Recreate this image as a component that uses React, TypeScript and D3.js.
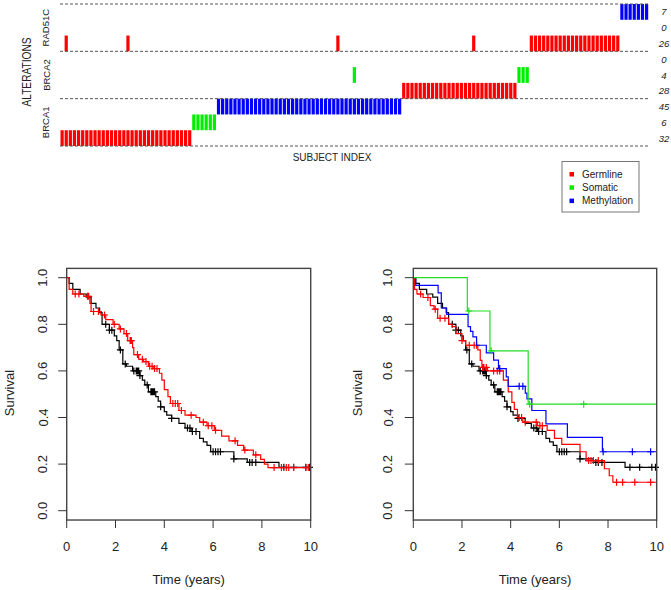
import React from "react";
import * as d3 from "d3";

// ---- top panel: alterations per subject ----
const subjectCount = 143;
const geneLabels = ["RAD51C", "BRCA2", "BRCA1"];
const rowTypes = ["Methylation", "Somatic", "Germline"];
const typeColors: Record<string, string> = {
  Germline: "#ff0000",
  Somatic: "#00ee00",
  Methylation: "#0000ff",
};

// subject indices, rows from top to bottom
const rad51cMethylation = d3.range(136, 143);
const rad51cSomatic: number[] = [];
const rad51cGermline = [1, 16, 67, 100, ...d3.range(114, 136)];
const brca2Methylation: number[] = [];
const brca2Somatic = [71, 111, 112, 113];
const brca2Germline = d3.range(83, 111);
const brca1Methylation = d3.range(38, 83);
const brca1Somatic = d3.range(32, 38);
const brca1Germline = d3.range(0, 32);

const rowSubjects = [
  rad51cMethylation, rad51cSomatic, rad51cGermline,
  brca2Methylation, brca2Somatic, brca2Germline,
  brca1Methylation, brca1Somatic, brca1Germline,
];

const legendItems = ["Germline", "Somatic", "Methylation"];

// ---- survival curves (time in years -> survival after the drop) ----
const blackTimes = [0.1, 0.25, 0.55, 0.8, 1.0, 1.2, 1.35, 1.45, 1.75, 1.95, 2.05, 2.15, 2.3, 2.45, 2.7, 3.0, 3.1, 3.2, 3.35, 3.65, 3.75, 3.85, 4.0, 4.1, 4.3, 4.6, 4.85, 5.1, 5.45, 5.6, 5.75, 5.9, 6.85, 7.4, 8.7];
const blackSurv = [0.976, 0.95, 0.93, 0.917, 0.89, 0.87, 0.85, 0.8, 0.775, 0.75, 0.73, 0.69, 0.63, 0.62, 0.6, 0.58, 0.56, 0.54, 0.51, 0.49, 0.47, 0.446, 0.425, 0.41, 0.396, 0.375, 0.355, 0.34, 0.31, 0.295, 0.28, 0.253, 0.222, 0.207, 0.186];
const blackCensor = [1.6, 1.75, 1.85, 2.2, 2.4, 2.75, 2.85, 2.9, 2.95, 3.0, 3.3, 3.45, 3.5, 3.55, 3.6, 3.85, 4.3, 4.95, 5.05, 5.15, 5.3, 6.0, 6.1, 6.2, 6.3, 6.85, 7.5, 7.6, 7.75, 8.9, 9.3, 9.8, 9.95];

const redAllTimes = [0.1, 0.25, 0.7, 0.95, 1.0, 1.4, 1.6, 1.9, 2.15, 2.35, 2.5, 2.7, 2.75, 2.95, 3.15, 3.35, 3.55, 3.8, 3.9, 4.0, 4.15, 4.25, 4.6, 4.85, 5.3, 5.45, 5.75, 6.05, 6.35, 6.65, 7.0, 7.25, 7.65, 7.95, 8.1, 8.25];
const redAllSurv = [0.95, 0.93, 0.92, 0.89, 0.855, 0.84, 0.82, 0.8, 0.78, 0.76, 0.73, 0.7, 0.67, 0.65, 0.64, 0.62, 0.61, 0.59, 0.56, 0.52, 0.49, 0.46, 0.43, 0.41, 0.4, 0.38, 0.365, 0.345, 0.32, 0.3, 0.28, 0.26, 0.24, 0.22, 0.2, 0.185];
const redAllCensor = [0.35, 0.5, 0.85, 0.9, 1.1, 1.3, 1.55, 1.95, 2.2, 2.45, 2.6, 2.65, 2.9, 3.1, 3.25, 3.4, 3.5, 3.6, 3.7, 4.35, 4.45, 4.55, 4.7, 5.1, 5.6, 5.8, 5.95, 6.1, 6.9, 7.3, 7.75, 8.5, 8.8, 9.0, 9.1, 9.3, 9.8, 9.9];

const germlineTimes = [0.05, 0.15, 0.4, 0.7, 0.85, 1.0, 1.45, 1.6, 1.75, 2.0, 2.15, 2.65, 2.75, 2.82, 3.05, 3.7, 3.9, 4.05, 4.15, 4.28, 4.5, 5.1, 5.5, 5.8, 6.1, 6.85, 7.1, 7.85, 8.05, 8.2];
const germlineSurv = [0.95, 0.93, 0.915, 0.88, 0.865, 0.826, 0.8, 0.79, 0.76, 0.73, 0.71, 0.69, 0.645, 0.615, 0.6, 0.56, 0.51, 0.465, 0.435, 0.4, 0.38, 0.365, 0.345, 0.31, 0.285, 0.253, 0.215, 0.18, 0.15, 0.122];
const germlineCensor = [0.3, 0.6, 0.9, 1.1, 1.3, 2.0, 2.3, 2.5, 2.6, 2.85, 2.9, 3.0, 3.3, 3.45, 3.55, 4.35, 4.45, 4.6, 5.05, 5.2, 5.3, 7.2, 7.3, 7.4, 7.6, 8.35, 8.6, 9.1, 9.75];

const methylTimes = [0.1, 1.02, 1.15, 1.37, 2.25, 2.35, 2.45, 2.6, 3.0, 3.3, 3.5, 3.82, 3.9, 4.6, 4.67, 4.87, 5.45, 6.33, 7.77];
const methylSurv = [0.967, 0.935, 0.87, 0.843, 0.79, 0.77, 0.746, 0.71, 0.677, 0.646, 0.61, 0.574, 0.534, 0.505, 0.48, 0.43, 0.373, 0.315, 0.253];
const methylCensor = [3.55, 4.35, 4.5, 7.8, 9.0, 9.75];

const somaticTimes = [2.22, 3.15, 4.72];
const somaticSurv = [0.857, 0.686, 0.457];
const somaticCensor = [2.28, 3.2, 4.78, 7.0];

const xTicks = [0, 2, 4, 6, 8, 10];
const yTicks = [0, 0.2, 0.4, 0.6, 0.8, 1.0];

const font = "'Liberation Sans', Arial, sans-serif";

type Curve = { color: string; times: number[]; surv: number[]; censor: number[] };

function SurvivalPlot({ x0, x1, labelX, titleX, curves }: { x0: number; x1: number; labelX: number; titleX: number; curves: Curve[] }) {
  const x = d3.scaleLinear().domain([0, 10]).range([x0, x1]);
  const y = d3.scaleLinear().domain([0, 1]).range([510.7, 277.7]);
  const boxTop = y(1.04);
  const boxBottom = y(-0.04);
  const line = d3
    .line<[number, number]>()
    .x((d) => x(d[0]))
    .y((d) => y(d[1]))
    .curve(d3.curveStepAfter);

  return (
    <g>
      {curves.map((c, ci) => {
        const pts: [number, number][] = [[0, 1], ...c.times.map((t, i) => [t, c.surv[i]] as [number, number])];
        pts.push([10, c.surv[c.surv.length - 1]]);
        const survAt = (t: number) => {
          const i = d3.bisectRight(c.times, t) - 1;
          return i < 0 ? 1 : c.surv[i];
        };
        const marks = c.censor
          .map((t) => {
            const cx = x(t), cy = y(survAt(t));
            return `M${cx - 3.5},${cy}h7M${cx},${cy - 3.5}v7`;
          })
          .join("");
        return (
          <g key={ci} stroke={c.color} fill="none" strokeWidth={1.2}>
            <path d={line(pts) || ""} />
            <path d={marks} />
          </g>
        );
      })}
      <rect x={x0} y={boxTop} width={x1 - x0} height={boxBottom - boxTop} fill="none" stroke="#444" strokeWidth={1.4} />
      {yTicks.map((v) => (
        <g key={v}>
          <line x1={x0 - 8.5} x2={x0} y1={y(v)} y2={y(v)} stroke="#333" />
          <text x={labelX} y={y(v)} transform={`rotate(-90 ${labelX} ${y(v)})`} textAnchor="middle" dominantBaseline="central" fontSize={13} fontFamily={font} fill="#222">
            {v.toFixed(1)}
          </text>
        </g>
      ))}
      {xTicks.map((v) => (
        <g key={v}>
          <line x1={x(v)} x2={x(v)} y1={boxBottom} y2={boxBottom + 8} stroke="#333" />
          <text x={x(v)} y={551} textAnchor="middle" fontSize={13} fontFamily={font} fill="#222">
            {v}
          </text>
        </g>
      ))}
      <text x={(x0 + x1) / 2} y={584} textAnchor="middle" fontSize={13} fontFamily={font} fill="#222">
        Time (years)
      </text>
      <text x={titleX} y={393} transform={`rotate(-90 ${titleX} 393)`} textAnchor="middle" dominantBaseline="central" fontSize={13} fontFamily={font} fill="#222">
        Survival
      </text>
    </g>
  );
}

export default function App() {
  const xs = d3.scaleBand<number>().domain(d3.range(subjectCount)).range([60.5, 648.2]).paddingInner(0.22);
  const ys = d3.scaleBand<number>().domain(d3.range(9)).range([4, 146]);
  const rowH = ys.step();

  return (
    <svg width={671} height={590} style={{ position: "absolute", left: 0, top: 0 }}>
      {/* alteration bars */}
      {rowSubjects.map((subs, r) => (
        <g key={r} fill={typeColors[rowTypes[r % 3]]}>
          {subs.map((s) => (
            <rect key={s} x={xs(s)} y={ys(r)} width={xs.bandwidth()} height={rowH} />
          ))}
        </g>
      ))}
      {[0, 3, 6, 9].map((r) => (
        <line key={r} x1={60} x2={648} y1={4 + r * rowH} y2={4 + r * rowH} stroke="#555" strokeDasharray="3,2" />
      ))}
      {rowSubjects.map((subs, r) => (
        <text key={r} x={664} y={(ys(r) as number) + rowH / 2} textAnchor="middle" dominantBaseline="central" fontSize={9.5} fontStyle="italic" fontFamily={font} fill="#222">
          {subs.length}
        </text>
      ))}
      {geneLabels.map((g, i) => {
        const cy = 4 + (i * 3 + 1.5) * rowH;
        return (
          <text key={g} x={46} y={cy} transform={`rotate(-90 46 ${cy})`} textAnchor="middle" dominantBaseline="central" fontSize={9.5} fontFamily={font} fill="#222">
            {g}
          </text>
        );
      })}
      <text x={27} y={72} transform="rotate(-90 27 72)" textAnchor="middle" dominantBaseline="central" fontSize={12} textLength={69} lengthAdjust="spacingAndGlyphs" fontFamily={font} fill="#222">
        ALTERATIONS
      </text>
      <text x={332} y={161} textAnchor="middle" fontSize={10} fontFamily={font} fill="#222">
        SUBJECT INDEX
      </text>

      {/* legend */}
      <rect x={562} y={161.5} width={77} height={50.5} fill="white" stroke="#777" />
      {legendItems.map((l, i) => (
        <g key={l}>
          <rect x={569.5} y={172 + i * 13.3} width={4.5} height={4.5} fill={typeColors[l]} />
          <text x={582} y={174.3 + i * 13.3} dominantBaseline="central" fontSize={10} fontFamily={font} fill="#222">
            {l}
          </text>
        </g>
      ))}

      <SurvivalPlot
        x0={66.7}
        x1={310.7}
        labelX={43}
        titleX={9}
        curves={[
          { color: "#000", times: blackTimes, surv: blackSurv, censor: blackCensor },
          { color: "#ff0000", times: redAllTimes, surv: redAllSurv, censor: redAllCensor },
        ]}
      />
      <SurvivalPlot
        x0={413.3}
        x1={656.7}
        labelX={388}
        titleX={357}
        curves={[
          { color: "#000", times: blackTimes, surv: blackSurv, censor: blackCensor },
          { color: "#ff0000", times: germlineTimes, surv: germlineSurv, censor: germlineCensor },
          { color: "#0000ff", times: methylTimes, surv: methylSurv, censor: methylCensor },
          { color: "#22dd22", times: somaticTimes, surv: somaticSurv, censor: somaticCensor },
        ]}
      />
    </svg>
  );
}
